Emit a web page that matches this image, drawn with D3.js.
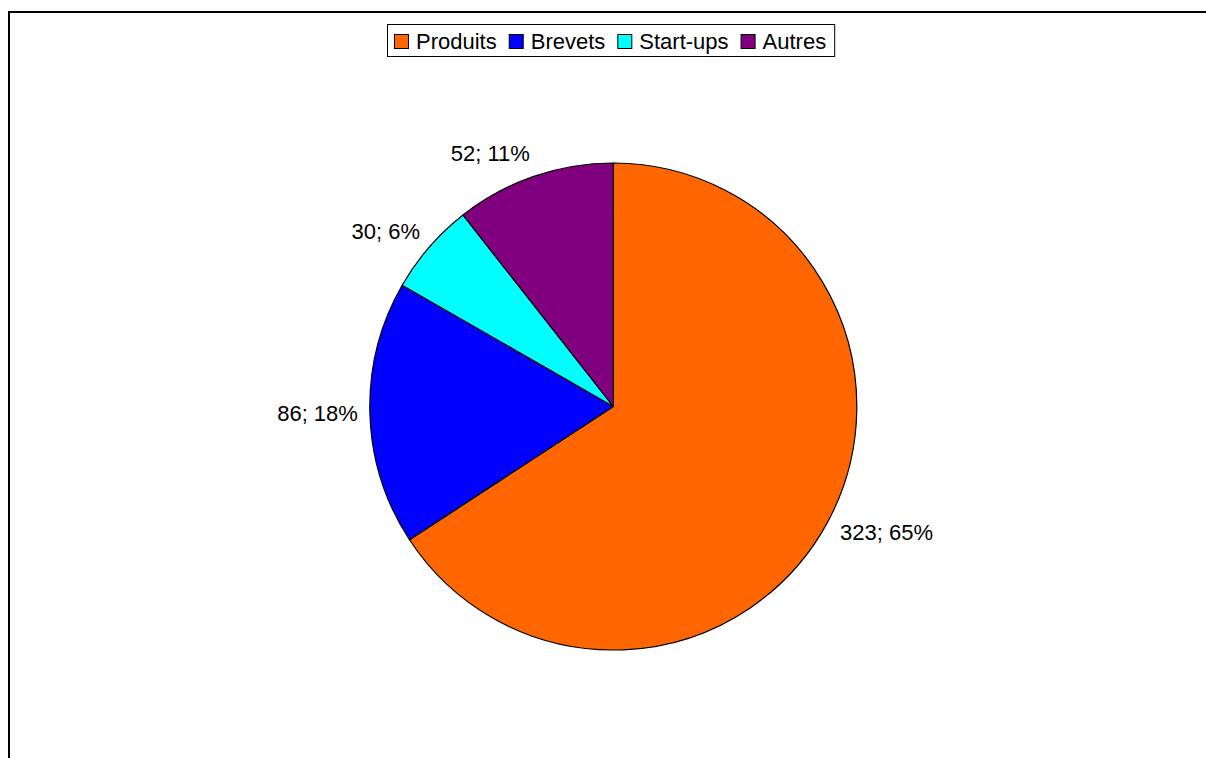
<!DOCTYPE html>
<html>
<head>
<meta charset="utf-8">
<script src="https://cdn.jsdelivr.net/npm/d3@7"></script>
<style>
  html, body { margin: 0; padding: 0; background: #fff; }
  svg { display: block; }
  text { font-family: "Liberation Sans", Arial, sans-serif; fill: #000; }
</style>
</head>
<body>
<svg id="chart" width="1206" height="758"></svg>
<script>
// Répartition des résultats
const categories = ["Produits", "Brevets", "Start-ups", "Autres"];
const values = [323, 86, 30, 52];
const percentLabels = ["65%", "18%", "6%", "11%"];
const colors = ["#FF6600", "#0000FF", "#00FFFF", "#800080"];

const W = 1206, H = 758;
const svg = d3.select("#chart");
const fontSize = 22;

// outer chart frame (extends past right and bottom edges)
svg.append("rect")
  .attr("x", 9).attr("y", 12)
  .attr("width", 1400).attr("height", 1000)
  .attr("fill", "none").attr("stroke", "#000").attr("stroke-width", 2);

// pie
const cx = 613.3, cy = 406.5, r = 243.5;
const data = categories.map((c, i) => ({ name: c, value: values[i], pct: percentLabels[i], color: colors[i] }));

const pie = d3.pie().value(d => d.value).sort(null).startAngle(0).endAngle(2 * Math.PI);
const arc = d3.arc().innerRadius(0).outerRadius(r);
const arcs = pie(data);

const g = svg.append("g").attr("transform", `translate(${cx},${cy})`);
g.selectAll("path.slice")
  .data(arcs)
  .enter().append("path")
  .attr("class", "slice")
  .attr("d", arc)
  .attr("fill", d => d.data.color)
  .attr("stroke", "#000")
  .attr("stroke-width", 1.2)
  .attr("stroke-linejoin", "round");

// value labels placed just outside each slice
const labelR = r + 12;
arcs.forEach(a => {
  const mid = (a.startAngle + a.endAngle) / 2;
  const s = Math.sin(mid), c = Math.cos(mid);
  const px = labelR * s, py = -labelR * c;
  const h = fontSize;
  const top = py - h * (1 + c) / 2;
  g.append("text")
    .attr("x", s < 0 ? px : px + 2)
    .attr("y", top + 0.8 * fontSize)
    .attr("text-anchor", s < 0 ? "end" : "start")
    .attr("font-size", fontSize)
    .text(`${a.data.value}; ${a.data.pct}`);
});

// legend
const legend = svg.append("g");
const legendBox = legend.append("rect")
  .attr("fill", "#fff").attr("stroke", "#000").attr("stroke-width", 1);
const sq = 15, padL = 7, padR = 8, gapSqText = 7, gapItem = 12;
const baseline = 49.3;
let x = 387 + padL;
categories.forEach((name, i) => {
  legend.append("rect")
    .attr("x", x + 0.5).attr("y", 34.5)
    .attr("width", sq - 1).attr("height", sq - 1)
    .attr("fill", colors[i]).attr("stroke", "#000").attr("stroke-width", 1);
  const t = legend.append("text")
    .attr("x", x + sq + gapSqText)
    .attr("y", baseline)
    .attr("font-size", fontSize)
    .text(name);
  const w = t.node().getComputedTextLength();
  x = x + sq + gapSqText + w + (i < categories.length - 1 ? gapItem : 0);
});
const boxW = x + padR - 387;
const legendX = (W - boxW) / 2 + 0;
legendBox.attr("x", 387.5).attr("y", 24.5).attr("width", boxW).attr("height", 32);
</script>
</body>
</html>
